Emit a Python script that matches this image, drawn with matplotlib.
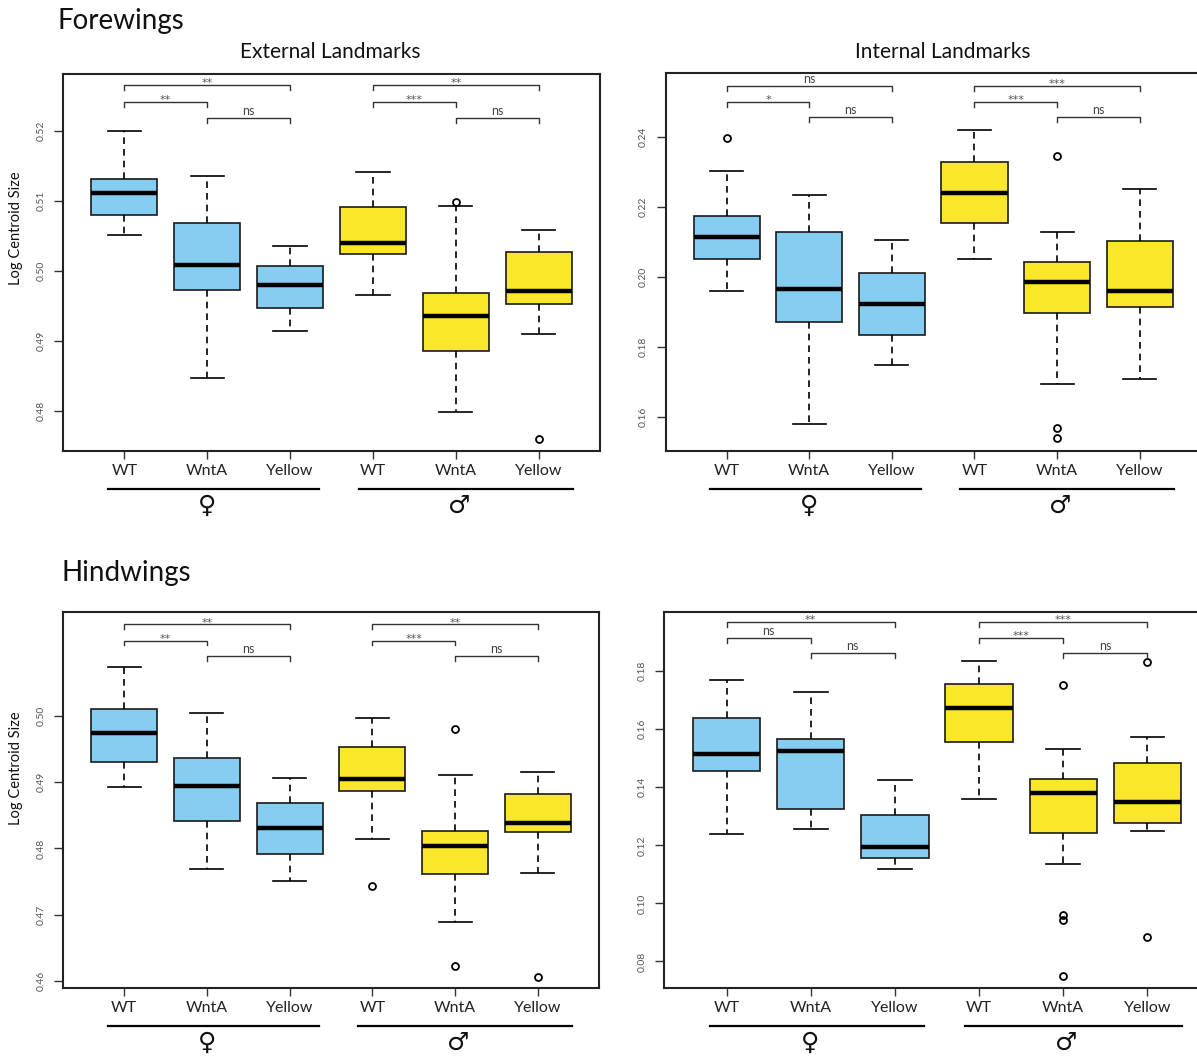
import matplotlib
matplotlib.use("Agg")
import matplotlib.pyplot as plt
from matplotlib.transforms import blended_transform_factory

plt.rcParams['font.family'] = ['Lato', 'DejaVu Sans']

# ---- data ----
groups = ["WT", "WntA", "Yellow", "WT", "WntA", "Yellow"]
sexes = ["\u2640", "\u2642"]
box_colors = ["#85CDF1", "#85CDF1", "#85CDF1", "#FBE72A", "#FBE72A", "#FBE72A"]

# forewings, external landmarks
fe_lo = [0.5052, 0.4848, 0.4914, 0.4966, 0.4799, 0.4910]
fe_q1 = [0.5080, 0.4973, 0.4947, 0.5025, 0.4886, 0.4953]
fe_med = [0.5111, 0.5009, 0.4980, 0.5040, 0.4936, 0.4971]
fe_q3 = [0.5131, 0.5069, 0.5008, 0.5092, 0.4969, 0.5027]
fe_hi = [0.5200, 0.5136, 0.5036, 0.5141, 0.5093, 0.5059]
fe_out = [[], [], [], [], [0.5099], [0.4761]]
fe_sig = ["**", "**", "ns", "**", "***", "ns"]

# forewings, internal landmarks
fi_lo = [0.1961, 0.1581, 0.1750, 0.2053, 0.1695, 0.1710]
fi_q1 = [0.2053, 0.1872, 0.1835, 0.2155, 0.1898, 0.1915]
fi_med = [0.2115, 0.1966, 0.1922, 0.2241, 0.1987, 0.1961]
fi_q3 = [0.2175, 0.2129, 0.2013, 0.2329, 0.2044, 0.2104]
fi_hi = [0.2304, 0.2235, 0.2107, 0.2421, 0.2130, 0.2252]
fi_out = [[0.2398], [], [], [], [0.2347, 0.1567, 0.1541], []]
fi_sig = ["ns", "*", "ns", "***", "***", "ns"]

# hindwings, external landmarks
he_lo = [0.4893, 0.4769, 0.4751, 0.4814, 0.4689, 0.4763]
he_q1 = [0.4930, 0.4841, 0.4791, 0.4887, 0.4761, 0.4825]
he_med = [0.4974, 0.4894, 0.4831, 0.4905, 0.4804, 0.4838]
he_q3 = [0.5011, 0.4937, 0.4869, 0.4953, 0.4826, 0.4882]
he_hi = [0.5074, 0.5005, 0.4906, 0.4997, 0.4911, 0.4915]
he_out = [[], [], [], [0.4743], [0.4980, 0.4622], [0.4606]]
he_sig = ["**", "**", "ns", "**", "***", "ns"]

# hindwings, internal landmarks
hi_lo = [0.1239, 0.1256, 0.1119, 0.1360, 0.1136, 0.1250]
hi_q1 = [0.1456, 0.1325, 0.1157, 0.1556, 0.1243, 0.1277]
hi_med = [0.1514, 0.1525, 0.1195, 0.1673, 0.1380, 0.1349]
hi_q3 = [0.1638, 0.1566, 0.1305, 0.1755, 0.1428, 0.1484]
hi_hi = [0.1769, 0.1728, 0.1425, 0.1834, 0.1532, 0.1573]
hi_out = [[], [], [], [], [0.1752, 0.0961, 0.0943, 0.0751], [0.1831, 0.0885]]
hi_sig = ["**", "ns", "ns", "***", "***", "ns"]

W, H = 1197, 1057
fig = plt.figure(figsize=(W / 100, H / 100), dpi=100)


def px_axes(left, right, top, bottom):
    return fig.add_axes([left / W, 1 - bottom / H, (right - left) / W, (bottom - top) / H])


def draw_panel(ax, lo, q1, med, q3, hi, out, sig, ylim, yticks, brk_y):
    stats = []
    for i in range(len(groups)):
        stats.append(dict(whislo=lo[i], q1=q1[i], med=med[i], q3=q3[i],
                          whishi=hi[i], fliers=out[i]))
    bp = ax.bxp(stats, positions=range(1, 7), widths=0.8, patch_artist=True,
                capwidths=0.4,
                boxprops=dict(edgecolor="#1a1a1a", linewidth=1.2),
                medianprops=dict(color="black", linewidth=3.2, solid_capstyle="butt"),
                whiskerprops=dict(color="black", linewidth=1.2, linestyle=(0, (4, 3))),
                capprops=dict(color="black", linewidth=1.2),
                flierprops=dict(marker="o", markerfacecolor="none", markeredgecolor="black",
                                markersize=5, markeredgewidth=1.3))
    for patch, c in zip(bp["boxes"], box_colors):
        patch.set_facecolor(c)

    ax.set_xlim(0.26, 6.74)
    ax.set_ylim(*ylim)
    ax.set_yticks(yticks)
    ax.set_yticklabels([f"{t:.2f}" for t in yticks], rotation=90, va="center",
                       fontsize=7.5, color="#555555")
    ax.set_xticks(range(1, 7))
    ax.set_xticklabels(groups, fontsize=11.5, color="#222222")
    ax.tick_params(axis="y", length=6.5, width=1.0, pad=6, colors="#333333", labelcolor="#555555")
    ax.tick_params(axis="x", length=5.5, width=1.0, pad=4, colors="#333333", labelcolor="#222222")
    for s in ax.spines.values():
        s.set_linewidth(1.5)
        s.set_color("#222222")

    tr = blended_transform_factory(ax.transData, ax.transAxes)
    drop = 0.013
    pairs = [(1, 3), (1, 2), (2, 3)]
    for g in range(2):
        for k, (a, b) in enumerate(pairs):
            xa, xb = a + 3 * g, b + 3 * g
            y = brk_y[k]
            ax.plot([xa, xa, xb, xb], [y - drop, y, y, y - drop], color="#333333",
                    lw=1.0, transform=tr, clip_on=False)
            lab = sig[3 * g + k]
            if lab == "ns":
                ax.text((xa + xb) / 2, y + 0.003, lab, transform=tr, ha="center",
                        va="bottom", fontsize=9, color="#444444")
            else:
                ax.text((xa + xb) / 2, y - 0.004, lab, transform=tr, ha="center",
                        va="baseline", fontsize=8, family=["DejaVu Sans"], color="#555555")

    # sex grouping lines + symbols
    for (x0, x1), sym in zip([(0.80, 3.35), (3.83, 6.41)], sexes):
        ax.plot([x0, x1], [-0.10, -0.10], color="black", lw=1.6, transform=tr, clip_on=False)
        ax.text((x0 + x1) / 2 - 0.08, -0.145, sym, transform=tr, ha="center", va="center",
                fontsize=18, family=["DejaVu Sans"], color="#111111")


ax1 = px_axes(63, 600, 74, 451)
draw_panel(ax1, fe_lo, fe_q1, fe_med, fe_q3, fe_hi, fe_out, fe_sig,
           (0.47434, 0.52813), [0.48, 0.49, 0.50, 0.51, 0.52], [0.971, 0.926, 0.883])
ax2 = px_axes(665.6, 1200.8, 73, 451)
draw_panel(ax2, fi_lo, fi_q1, fi_med, fi_q3, fi_hi, fi_out, fi_sig,
           (0.15026, 0.25841), [0.16, 0.18, 0.20, 0.22, 0.24], [0.966, 0.924, 0.883])
ax3 = px_axes(63, 599, 612, 988)
draw_panel(ax3, he_lo, he_q1, he_med, he_q3, he_hi, he_out, he_sig,
           (0.45894, 0.51567), [0.46, 0.47, 0.48, 0.49, 0.50], [0.968, 0.924, 0.883])
ax4 = px_axes(664.2, 1209.8, 612, 988)
draw_panel(ax4, hi_lo, hi_q1, hi_med, hi_q3, hi_hi, hi_out, hi_sig,
           (0.07085, 0.2004), [0.08, 0.10, 0.12, 0.14, 0.16, 0.18], [0.974, 0.931, 0.89])

# titles and y labels
fig.text(57 / W, 1 - 21 / H, "Forewings", fontsize=20, ha="left", va="center", color="#111111")
fig.text(62 / W, 1 - 573 / H, "Hindwings", fontsize=20, ha="left", va="center", color="#111111")
fig.text(330 / W, 1 - 52 / H, "External Landmarks", fontsize=15, ha="center", va="center", color="#111111")
fig.text(943 / W, 1 - 52 / H, "Internal Landmarks", fontsize=15, ha="center", va="center", color="#111111")
fig.text(16 / W, 1 - 228 / H, "Log Centroid Size", fontsize=10.5, rotation=90,
         ha="center", va="center", color="#111111")
fig.text(16 / W, 1 - 768 / H, "Log Centroid Size", fontsize=10.5, rotation=90,
         ha="center", va="center", color="#111111")

fig.savefig("out.png", dpi=100, facecolor="white")
